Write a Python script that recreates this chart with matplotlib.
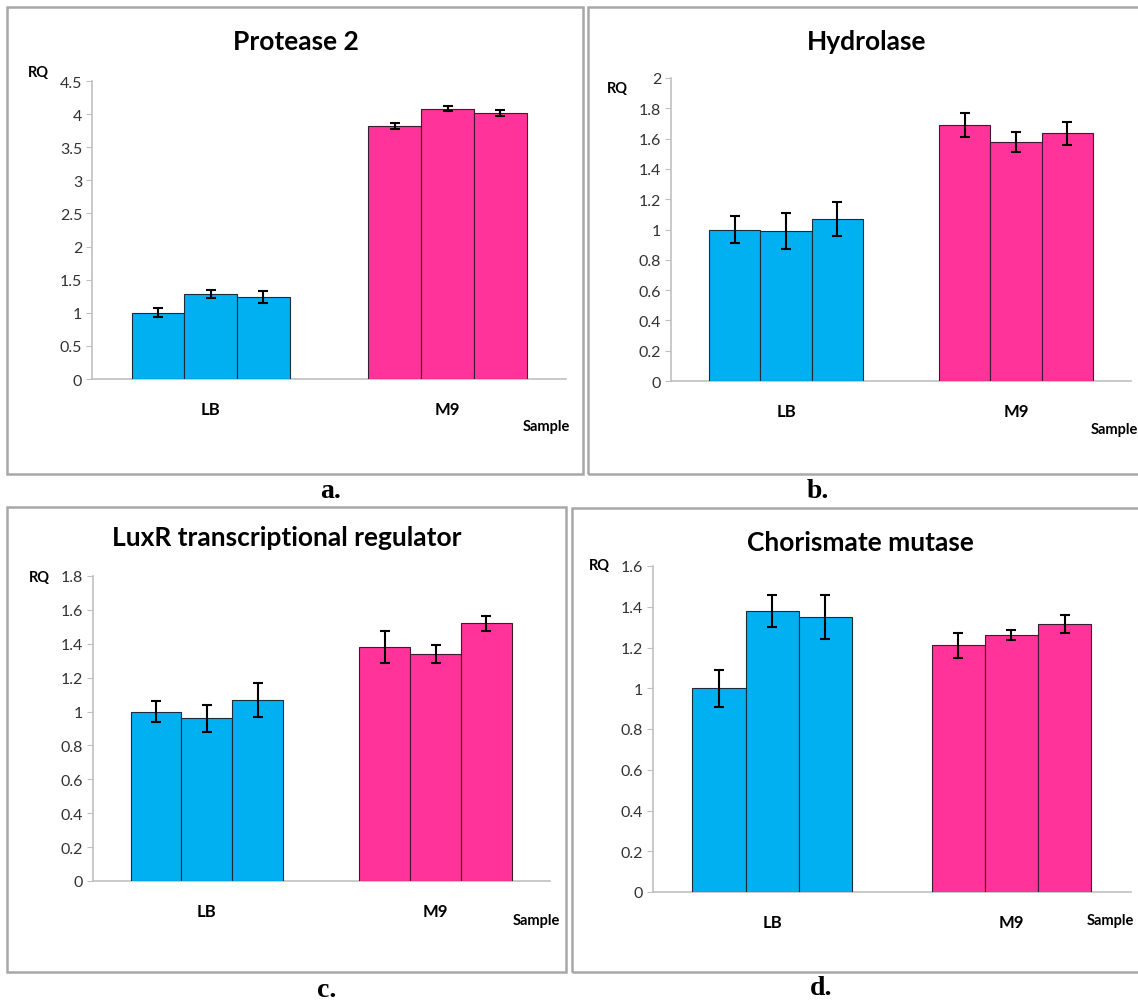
import numpy as np
import matplotlib
matplotlib.use("Agg")
import matplotlib.pyplot as plt
from matplotlib.patches import Rectangle
from matplotlib.ticker import MultipleLocator, FuncFormatter

plt.rcParams['font.family'] = ['Lato', 'DejaVu Sans']

# data (RQ, three replicates per medium)
categories = ["LB", "M9"]
titles = ["Protease 2", "Hydrolase", "LuxR transcriptional regulator", "Chorismate mutase"]
panel_tags = ["a.", "b.", "c.", "d."]

protease_lb = [1.00, 1.29, 1.24]
protease_lb_err = [0.07, 0.06, 0.085]
protease_m9 = [3.82, 4.08, 4.02]
protease_m9_err = [0.04, 0.035, 0.045]

hydrolase_lb = [1.00, 0.99, 1.07]
hydrolase_lb_err = [0.086, 0.117, 0.11]
hydrolase_m9 = [1.69, 1.58, 1.635]
hydrolase_m9_err = [0.082, 0.066, 0.075]

luxr_lb = [1.00, 0.96, 1.07]
luxr_lb_err = [0.061, 0.081, 0.10]
luxr_m9 = [1.38, 1.34, 1.52]
luxr_m9_err = [0.096, 0.051, 0.045]

chor_lb = [1.00, 1.38, 1.35]
chor_lb_err = [0.092, 0.08, 0.107]
chor_m9 = [1.21, 1.26, 1.315]
chor_m9_err = [0.063, 0.025, 0.044]

y_max = [4.5, 2.0, 1.8, 1.6]
y_step = [0.5, 0.2, 0.2, 0.2]

BLUE = "#00b0f0"
PINK = "#ff3399"

W, H = 1138, 1003
fig = plt.figure(figsize=(W / 100, H / 100), dpi=100)


def fx(x):
    return x / W


def fy(y):
    return 1 - y / H


def border(l, t, r, b):
    fig.patches.append(Rectangle((fx(l), fy(b)), fx(r) - fx(l), fy(t) - fy(b),
                                 transform=fig.transFigure, fill=False,
                                 edgecolor="#a8a8a8", lw=1.8, zorder=0))


def chart(rect, ymax, step, lb, lb_err, m9, m9_err):
    l, t, r, b = rect
    ax = fig.add_axes([fx(l), fy(b), fx(r) - fx(l), fy(t) - fy(b)])
    w = 2 / 9
    centers = np.arange(len(categories)) + 0.5
    offs = (np.arange(3) - 1) * w
    ekw = dict(elinewidth=1.5, capthick=1.5, ecolor="black")
    ax.bar(centers[0] + offs, lb, width=w, color=BLUE, edgecolor="#1c2b3a",
           linewidth=0.8, yerr=lb_err, capsize=3.5, error_kw=ekw, zorder=3)
    ax.bar(centers[1] + offs, m9, width=w, color=PINK, edgecolor="#3a1c2b",
           linewidth=0.8, yerr=m9_err, capsize=3.5, error_kw=ekw, zorder=3)
    ax.set_xlim(0, 2)
    ax.set_ylim(0, ymax)
    ax.yaxis.set_major_locator(MultipleLocator(step))
    ax.yaxis.set_major_formatter(FuncFormatter(lambda v, _: f"{round(v, 2):g}"))
    for s in ("top", "right"):
        ax.spines[s].set_visible(False)
    for s in ("left", "bottom"):
        ax.spines[s].set_color("#c0c0c0")
        ax.spines[s].set_linewidth(1.2)
    ax.tick_params(axis="y", direction="out", length=4, color="#c0c0c0",
                   labelsize=11.5, labelcolor="#333333", pad=3)
    ax.set_xticks(centers, categories, fontweight="bold", fontsize=12)
    ax.tick_params(axis="x", length=0, pad=16)
    return ax


# panel frames and plot areas in pixels (left, top, right, bottom)
borders = [(7, 8, 583, 475), (588, 8, 1150, 475),
           (7, 508, 566, 973), (572, 509, 1150, 973)]
plot_rects = [(92, 82, 566, 380), (671, 79, 1131, 382),
              (92.5, 577, 550, 882), (652.5, 567, 1131, 893)]
title_pos = [(296, 42), (867, 42), (287, 538), (860, 543)]
rq_pos = [(38, 73), (617, 89), (39, 578), (599, 566)]
sample_pos = [(546, 427), (1114, 430), (536, 921), (1110, 921)]
tag_pos = [(331, 492), (818, 492), (327, 991), (821, 989)]

series = [(protease_lb, protease_lb_err, protease_m9, protease_m9_err),
          (hydrolase_lb, hydrolase_lb_err, hydrolase_m9, hydrolase_m9_err),
          (luxr_lb, luxr_lb_err, luxr_m9, luxr_m9_err),
          (chor_lb, chor_lb_err, chor_m9, chor_m9_err)]

for i in range(4):
    border(*borders[i])
    chart(plot_rects[i], y_max[i], y_step[i], *series[i])
    fig.text(fx(title_pos[i][0]), fy(title_pos[i][1]), titles[i], ha="center",
             va="center", fontsize=19, fontweight="bold")
    fig.text(fx(rq_pos[i][0]), fy(rq_pos[i][1]), "RQ", ha="center", va="center",
             fontsize=10.5, fontweight="bold")
    fig.text(fx(sample_pos[i][0]), fy(sample_pos[i][1]), "Sample", ha="center",
             va="center", fontsize=10.5, fontweight="bold")
    fig.text(fx(tag_pos[i][0]), fy(tag_pos[i][1]), panel_tags[i], ha="center",
             va="center", fontsize=20, fontweight="bold", family="Liberation Serif")

fig.savefig("out.png", dpi=100)
